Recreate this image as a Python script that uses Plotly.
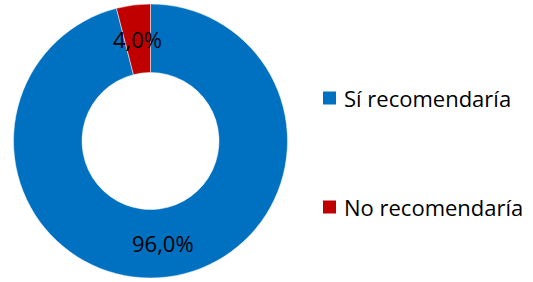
import math
import plotly.graph_objects as go

labels = ["Sí recomendaría", "No recomendaría"]
values = [96.0, 4.0]
colors = ["#0070C0", "#C00000"]

W, H = 533, 282
# pie geometry in pixels
dom_x = (12, 289)
dom_y = (4, 278)
cx = (dom_x[0] + dom_x[1]) / 2
cy = (dom_y[0] + dom_y[1]) / 2
R = min(dom_x[1] - dom_x[0], dom_y[1] - dom_y[0]) / 2
hole = 0.5

fig = go.Figure()
fig.add_trace(go.Pie(
    labels=labels,
    values=values,
    hole=hole,
    sort=False,
    direction="clockwise",
    rotation=0,
    marker=dict(colors=colors, line=dict(color="white", width=0.5)),
    textinfo="none",
    domain=dict(x=[dom_x[0]/W, dom_x[1]/W], y=[1 - dom_y[1]/H, 1 - dom_y[0]/H]),
    showlegend=False,
    hoverinfo="label+percent",
))

annotations = []
shapes = []

# data labels at the middle of each slice
total = sum(values)
cum = 0.0
r_lab = R * (1 + hole) / 2
for v in values:
    theta = 2 * math.pi * (cum + v / 2) / total
    cum += v
    px = cx + r_lab * math.sin(theta)
    py = cy - r_lab * math.cos(theta)
    txt = f"{v / total * 100:.1f}%".replace(".", ",")
    annotations.append(dict(text=txt, xref="paper", yref="paper",
                            x=px / W, y=1 - py / H,
                            xanchor="center", yanchor="middle", showarrow=False,
                            font=dict(family="Open Sans", size=22, color="#000000")))

# legend drawn as squares + text
legend_y = [98, 207]
for lab, col, yp in zip(labels, colors, legend_y):
    shapes.append(dict(type="rect", xref="paper", yref="paper",
                       x0=323/W, x1=336/W,
                       y0=(H - yp - 6.5)/H, y1=(H - yp + 6.5)/H,
                       fillcolor=col, line=dict(width=0)))
    annotations.append(dict(text=lab, xref="paper", yref="paper",
                            x=342/W, y=(H - yp)/H,
                            xanchor="left", yanchor="middle", showarrow=False,
                            font=dict(family="Open Sans", size=22, color="#000000")))

fig.update_layout(
    width=W, height=H,
    margin=dict(l=0, r=0, t=0, b=0),
    paper_bgcolor="white",
    plot_bgcolor="white",
    shapes=shapes,
    annotations=annotations,
)

fig.write_html("out.html", config={"displayModeBar": False},
               post_script="document.body.style.margin='0';")
